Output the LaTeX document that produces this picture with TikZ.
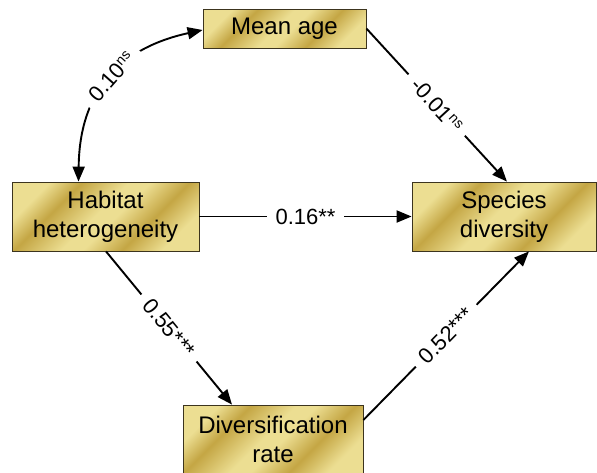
\documentclass[tikz,border=0pt]{standalone}
\usepackage{fontspec}
\setmainfont{Liberation Sans}
\usetikzlibrary{arrows.meta}
\definecolor{goldL}{RGB}{236,222,146}
\definecolor{goldD}{RGB}{196,166,68}
\definecolor{boxedge}{RGB}{60,52,30}
\pgfdeclarehorizontalshading{goldstripes}{100bp}{color(0bp)=(goldL); color(25bp)=(goldL); color(34bp)=(goldD); color(47bp)=(goldL); color(53bp)=(goldL); color(64bp)=(goldD); color(75bp)=(goldL); color(100bp)=(goldL)}
\newcommand{\supns}{\raisebox{7pt}{\fontsize{14}{14}\selectfont ns}}
\begin{document}
\begin{tikzpicture}[x=1pt,y=1pt,
  box/.style={draw=boxedge, line width=0.8pt, shading=goldstripes, shading angle=-45,
    font=\fontsize{24}{29}\selectfont, align=center, inner sep=0pt},
  lab/.style={fill=white, font=\fontsize{22}{22}\selectfont, inner xsep=9pt, inner ysep=1pt},
  arr/.style={line width=1.9pt, >={Triangle[length=15pt,width=12pt]}}
]
\useasboundingbox (0,0) rectangle (597,-472);
\node[box, minimum width=163pt, minimum height=39pt] (mean) at (284.5,-28.5) {Mean age};
\node[box, minimum width=187pt, minimum height=69pt] (habitat) at (105.5,-216.5) {Habitat\\heterogeneity};
\node[box, minimum width=184pt, minimum height=69pt] (species) at (504,-216.5) {Species\\diversity};
\node[box, minimum width=180pt, minimum height=69pt] (divers) at (273,-439.5) {Diversification\\rate};

\draw[arr,<->] ([xshift=-27pt]habitat.north) .. controls +(1,95) and +(-78,-17) .. node[lab, sloped] {0.10\supns} ([yshift=-1.5pt]mean.west);
\draw[arr,->] (mean.east) -- node[lab, sloped] {-0.01\supns} ([xshift=3pt]species.north);
\draw[arr,->] (habitat.east) -- node[lab] {0.16**} (species.west);
\draw[arr,->] ([xshift=0.5pt]habitat.south) -- node[lab, sloped] {0.55***} ([xshift=-41pt]divers.north);
\draw[arr,->] ([yshift=19.5pt]divers.east) -- node[lab, sloped] {0.52***} ([xshift=25pt]species.south);
\end{tikzpicture}
\end{document}
